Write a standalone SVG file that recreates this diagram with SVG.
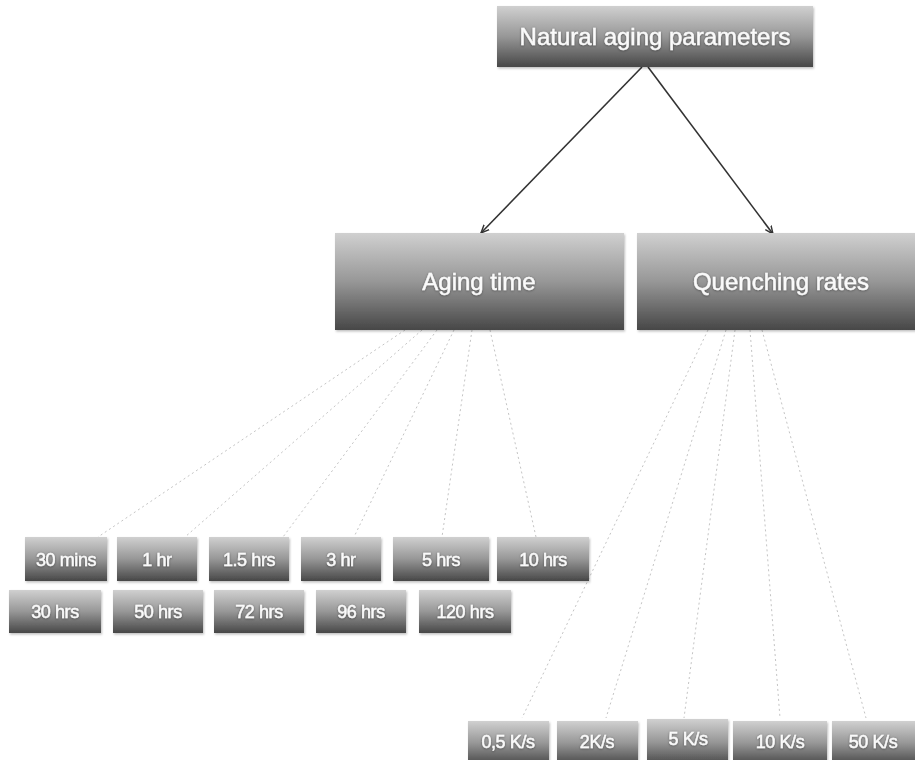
<svg xmlns="http://www.w3.org/2000/svg" width="915" height="760" viewBox="0 0 915 760">
<defs>
<linearGradient id="g" x1="0" y1="0" x2="0" y2="1">
<stop offset="0" stop-color="#d0d0d0"/>
<stop offset="0.5" stop-color="#979797"/>
<stop offset="1" stop-color="#474747"/>
</linearGradient>
<marker id="ah" viewBox="0 0 10 10" refX="9" refY="5" markerWidth="9" markerHeight="9" orient="auto" markerUnits="userSpaceOnUse">
<path d="M0,1 L9,5 L0,9" fill="none" stroke="#333" stroke-width="1.6"/>
</marker>
<filter id="sh" x="-10%" y="-10%" width="120%" height="130%">
<feDropShadow dx="1" dy="1.5" stdDeviation="1" flood-color="#000" flood-opacity="0.25"/>
</filter>
<filter id="ts" x="-10%" y="-30%" width="120%" height="160%">
<feDropShadow dx="0" dy="0.5" stdDeviation="1" flood-color="#000" flood-opacity="0.45"/>
</filter>
</defs>
<style>
.box{fill:url(#g);filter:url(#sh)}
.t{font-family:"Liberation Sans",Arial,sans-serif;fill:#fafafa;stroke:#fafafa;stroke-width:0.45;text-anchor:middle;filter:url(#ts)}
.big{font-size:24px}
.sm{font-size:18px;letter-spacing:-0.4px}
.arrow{stroke:#333;stroke-width:1.6;fill:none}
.dash{stroke:#c4c4c4;stroke-width:1;stroke-dasharray:2 3;fill:none}
</style>
<rect width="915" height="760" fill="#ffffff"/>
<g id="connectors">
<line class="arrow" x1="642" y1="67" x2="481" y2="233" marker-end="url(#ah)"/>
<line class="arrow" x1="648" y1="67" x2="773" y2="234" marker-end="url(#ah)"/>
<line class="dash" x1="405" y1="330" x2="98" y2="537"/>
<line class="dash" x1="422" y1="330" x2="185" y2="537"/>
<line class="dash" x1="437" y1="330" x2="283" y2="537"/>
<line class="dash" x1="454" y1="330" x2="354" y2="537"/>
<line class="dash" x1="472" y1="330" x2="442" y2="537"/>
<line class="dash" x1="490" y1="330" x2="536" y2="537"/>
<line class="dash" x1="708" y1="330" x2="522" y2="718"/>
<line class="dash" x1="726" y1="330" x2="606" y2="718"/>
<line class="dash" x1="735" y1="330" x2="684" y2="718"/>
<line class="dash" x1="750" y1="330" x2="780" y2="718"/>
<line class="dash" x1="762" y1="330" x2="866" y2="718"/>
</g>
<g id="n-root"><rect class="box" x="497" y="6" width="316" height="61"/><text class="t big" x="655" y="45">Natural aging parameters</text></g>
<g id="n-aging"><rect class="box" x="335" y="233" width="289" height="97"/><text class="t big" x="479" y="290">Aging time</text></g>
<g id="n-quench"><rect class="box" x="637" y="233" width="280" height="97"/><text class="t big" x="781" y="290">Quenching rates</text></g>
<g id="n-30mins"><rect class="box" x="25" y="537" width="82" height="44"/><text class="t sm" x="66" y="566">30 mins</text></g>
<g id="n-1hr"><rect class="box" x="117" y="537" width="80" height="44"/><text class="t sm" x="157" y="566">1 hr</text></g>
<g id="n-15hrs"><rect class="box" x="209" y="537" width="80" height="44"/><text class="t sm" x="249" y="566">1.5 hrs</text></g>
<g id="n-3hr"><rect class="box" x="301" y="537" width="80" height="44"/><text class="t sm" x="341" y="566">3 hr</text></g>
<g id="n-5hrs"><rect class="box" x="393" y="537" width="96" height="44"/><text class="t sm" x="441" y="566">5 hrs</text></g>
<g id="n-10hrs"><rect class="box" x="497" y="537" width="92" height="44"/><text class="t sm" x="543" y="566">10 hrs</text></g>
<g id="n-30hrs"><rect class="box" x="9" y="590" width="92" height="43"/><text class="t sm" x="55" y="618">30 hrs</text></g>
<g id="n-50hrs"><rect class="box" x="113" y="590" width="90" height="43"/><text class="t sm" x="158" y="618">50 hrs</text></g>
<g id="n-72hrs"><rect class="box" x="214" y="590" width="90" height="43"/><text class="t sm" x="259" y="618">72 hrs</text></g>
<g id="n-96hrs"><rect class="box" x="316" y="590" width="90" height="43"/><text class="t sm" x="361" y="618">96 hrs</text></g>
<g id="n-120hrs"><rect class="box" x="419" y="590" width="92" height="43"/><text class="t sm" x="465" y="618">120 hrs</text></g>
<g id="n-05ks"><rect class="box" x="468" y="721" width="81" height="44"/><text class="t sm" x="508" y="748">0,5 K/s</text></g>
<g id="n-2ks"><rect class="box" x="557" y="721" width="81" height="44"/><text class="t sm" x="597" y="748">2K/s</text></g>
<g id="n-5ks"><rect class="box" x="647" y="719" width="81" height="46"/><text class="t sm" x="688" y="745">5 K/s</text></g>
<g id="n-10ks"><rect class="box" x="733" y="721" width="94" height="44"/><text class="t sm" x="780" y="748">10 K/s</text></g>
<g id="n-50ks"><rect class="box" x="832" y="721" width="90" height="44"/><text class="t sm" x="873" y="748">50 K/s</text></g>
</svg>
